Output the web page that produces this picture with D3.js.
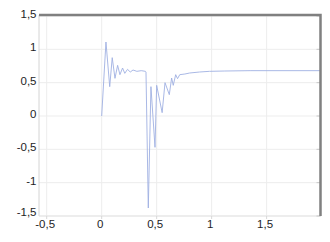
<!DOCTYPE html>
<html>
<head>
<meta charset="utf-8">
<script src="https://cdn.jsdelivr.net/npm/d3@7"></script>
<style>
  body { margin: 0; background: #fff; }
  svg text { font-family: "Liberation Sans", Arial, sans-serif; font-size: 11.5px; fill: #1e1e1e; }
</style>
</head>
<body>
<svg id="chart" width="330" height="242"></svg>
<script>
/// data
var tValues = [0, 0.039, 0.073, 0.096, 0.121, 0.145, 0.166, 0.19, 0.21, 0.235, 0.26, 0.285, 0.32, 0.36, 0.398,
               0.403, 0.424, 0.448, 0.485, 0.50, 0.55, 0.576, 0.615, 0.636, 0.651, 0.673, 0.69,
               0.71, 0.757, 0.80, 0.89, 0.98, 1.12, 1.35, 1.985];
var yValues = [0, 1.11, 0.44, 0.875, 0.565, 0.76, 0.62, 0.72, 0.64, 0.70, 0.66, 0.69, 0.67, 0.68, 0.67,
               0.66, -1.38, 0.44, -0.47, 0.46, 0.05, 0.5, 0.32, 0.57, 0.46, 0.62, 0.56,
               0.62, 0.63, 0.645, 0.66, 0.67, 0.675, 0.68, 0.68];
var xTicks = [-0.5, 0, 0.5, 1, 1.5];
var yTicks = [-1.5, -1, -0.5, 0, 0.5, 1, 1.5];

/// layout
var m = {left: 39, right: 320.5, top: 16, bottom: 216};
var svg = d3.select("#chart");

var x = d3.scaleLinear().domain([-0.57, 1.99]).range([m.left, m.right]);
var y = d3.scaleLinear().domain([-1.5, 1.5]).range([m.bottom, m.top]);

var fmt = d => String(d).replace(".", ",");

// grid
svg.append("g").selectAll("line").data(xTicks).enter().append("line")
   .attr("x1", d => x(d)).attr("x2", d => x(d))
   .attr("y1", m.top).attr("y2", m.bottom)
   .attr("stroke", "#ededed").attr("stroke-width", 1);
svg.append("g").selectAll("line").data(yTicks).enter().append("line")
   .attr("x1", m.left).attr("x2", m.right)
   .attr("y1", d => y(d)).attr("y2", d => y(d))
   .attr("stroke", "#ededed").attr("stroke-width", 1);

// left / bottom axis lines (light)
svg.append("line").attr("x1", m.left).attr("x2", m.left).attr("y1", m.top - 1).attr("y2", m.bottom)
   .attr("stroke", "#d4d4d4");
svg.append("line").attr("x1", m.left).attr("x2", m.right).attr("y1", m.bottom).attr("y2", m.bottom)
   .attr("stroke", "#e4e4e4");

// small ticks at right border and bottom
svg.append("g").selectAll("line").data(yTicks).enter().append("line")
   .attr("x1", m.right - 4).attr("x2", m.right)
   .attr("y1", d => y(d)).attr("y2", d => y(d))
   .attr("stroke", "#c8c8c8");
svg.append("g").selectAll("line").data(xTicks).enter().append("line")
   .attr("x1", d => x(d)).attr("x2", d => x(d))
   .attr("y1", m.bottom).attr("y2", m.bottom + 3)
   .attr("stroke", "#d8d8d8");

// signal
var pts = tValues.map((t, i) => [t, yValues[i]]);
svg.append("path")
   .datum(pts)
   .attr("fill", "none")
   .attr("stroke", "#9fb0e2")
   .attr("stroke-width", 0.9)
   .attr("d", d3.line().x(d => x(d[0])).y(d => y(d[1])));

// thick top / right frame
svg.append("path")
   .attr("d", "M" + m.left + "," + (m.top - 1) + "H" + m.right + "V" + m.bottom)
   .attr("fill", "none")
   .attr("stroke", "#808080")
   .attr("stroke-width", 2.5);

// tick labels (lowest one sits a bit higher, clear of the x labels)
svg.append("g").selectAll("text").data(yTicks).enter().append("text")
   .attr("x", 36.5)
   .attr("y", d => y(d) - (d === -1.5 ? 4.5 : 2))
   .attr("dy", "0.35em")
   .attr("text-anchor", "end")
   .text(fmt);
svg.append("g").selectAll("text").data(xTicks).enter().append("text")
   .attr("x", d => x(d) - 1.5)
   .attr("y", 228)
   .attr("text-anchor", "middle")
   .text(fmt);
</script>
</body>
</html>
